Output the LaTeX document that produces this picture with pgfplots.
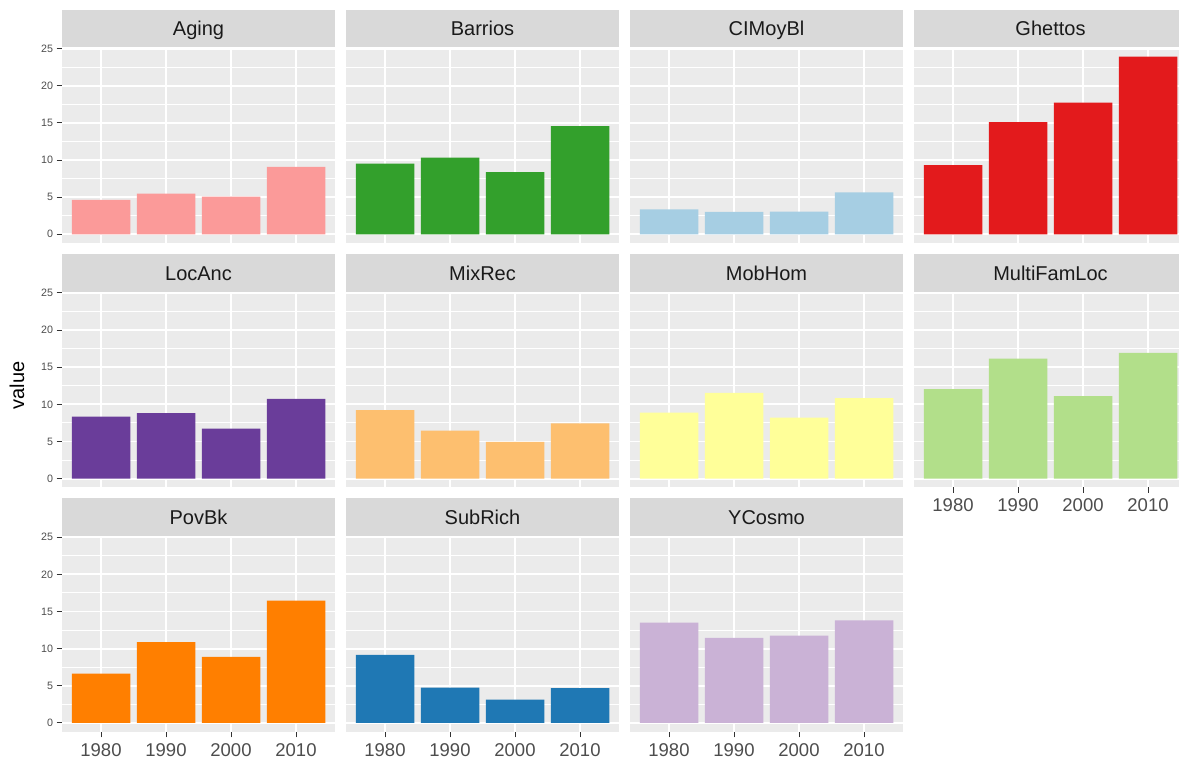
\documentclass[border=0pt]{standalone}
\usepackage{fontspec}
\setmainfont{Liberation Sans}
\usepackage{pgfplots}
\pgfplotsset{compat=1.18}
\definecolor{panelbg}{HTML}{EBEBEB}
\definecolor{stripbg}{HTML}{D9D9D9}
\definecolor{striptext}{HTML}{1A1A1A}
\definecolor{ticklab}{HTML}{4D4D4D}
\definecolor{tickcol}{HTML}{333333}
\definecolor{cAging}{HTML}{FB9A99}
\definecolor{cBarrios}{HTML}{33A02C}
\definecolor{cCIMoyBl}{HTML}{A6CEE3}
\definecolor{cGhettos}{HTML}{E31A1C}
\definecolor{cLocAnc}{HTML}{6A3D9A}
\definecolor{cMixRec}{HTML}{FDBF6F}
\definecolor{cMobHom}{HTML}{FFFF99}
\definecolor{cMultiFamLoc}{HTML}{B2DF8A}
\definecolor{cPovBk}{HTML}{FF7F00}
\definecolor{cSubRich}{HTML}{1F78B4}
\definecolor{cYCosmo}{HTML}{CAB2D6}
\pgfplotsset{
 every axis title shift=0pt,
 panel/.style={
  scale only axis, width=273pt, height=195.6pt,
  xmin=0.4, xmax=4.6, ymin=-1.197, ymax=25.14,
  axis background/.style={fill=panelbg},
  axis line style={draw=none},
  xtick={1,2,3,4}, ytick={0,5,10,15,20,25},
  minor ytick={2.5,7.5,12.5,17.5,22.5},
  xmajorgrids, ymajorgrids, yminorgrids,
  major grid style={white, line width=1.9pt},
  minor grid style={white, line width=0.95pt},
  xtick pos=left, ytick pos=left,
  tick align=outside,
  major tick length=5.5pt, minor tick length=0pt,
  xtick style={draw=none}, ytick style={draw=none},
  xticklabels={}, yticklabels={},
  /pgf/number format/assume math mode=true,
  title style={at={(rel axis cs:0.5,1)}, anchor=south, yshift=0pt, fill=stripbg,
    minimum width=273pt, minimum height=37.5pt, inner sep=0pt,
    text=striptext, font=\fontsize{20}{24}\selectfont,
    text height=14.5pt, text depth=0pt},
  ybar, bar width=0.9,
 },
 ylab/.style={ytick style={draw=tickcol, line width=1pt},
   yticklabels={0,5,10,15,20,25},
   yticklabel style={font=\fontsize{10.7}{12}\selectfont, text=ticklab}},
 xlab/.style={xtick style={draw=tickcol, line width=1pt},
   xticklabels={1980,1990,2000,2010},
   xticklabel style={font=\fontsize{18.5}{20}\selectfont, text=ticklab, yshift=-2.5pt}},
}
\begin{document}
\begin{tikzpicture}
\useasboundingbox (0,0) rectangle (1179pt,761pt);
\clip (0,0) rectangle (1179pt,761pt);
% Row 1
\begin{axis}[panel, ylab, at={(62pt,517.8pt)}, anchor=south west, title={Aging}]
\addplot[fill=cAging, draw=none] coordinates {(1,4.63) (2,5.48) (3,5.08) (4,9.07)};
\end{axis}
\begin{axis}[panel, at={(346pt,517.8pt)}, anchor=south west, title={Barrios}]
\addplot[fill=cBarrios, draw=none] coordinates {(1,9.52) (2,10.33) (3,8.36) (4,14.56)};
\end{axis}
\begin{axis}[panel, at={(630pt,517.8pt)}, anchor=south west, title={CIMoyBl}]
\addplot[fill=cCIMoyBl, draw=none] coordinates {(1,3.37) (2,3.01) (3,3.05) (4,5.66)};
\end{axis}
\begin{axis}[panel, at={(914pt,517.8pt)}, anchor=south west, title={Ghettos}]
\addplot[fill=cGhettos, draw=none] coordinates {(1,9.30) (2,15.09) (3,17.74) (4,23.94)};
\end{axis}
% Row 2
\begin{axis}[panel, ylab, at={(62pt,273.5pt)}, anchor=south west, title={LocAnc}]
\addplot[fill=cLocAnc, draw=none] coordinates {(1,8.33) (2,8.83) (3,6.72) (4,10.75)};
\end{axis}
\begin{axis}[panel, at={(346pt,273.5pt)}, anchor=south west, title={MixRec}]
\addplot[fill=cMixRec, draw=none] coordinates {(1,9.23) (2,6.45) (3,4.93) (4,7.44)};
\end{axis}
\begin{axis}[panel, at={(630pt,273.5pt)}, anchor=south west, title={MobHom}]
\addplot[fill=cMobHom, draw=none] coordinates {(1,8.87) (2,11.56) (3,8.20) (4,10.84)};
\end{axis}
\begin{axis}[panel, xlab, at={(914pt,273.5pt)}, anchor=south west, title={MultiFamLoc}]
\addplot[fill=cMultiFamLoc, draw=none] coordinates {(1,12.05) (2,16.17) (3,11.11) (4,16.94)};
\end{axis}
% Row 3
\begin{axis}[panel, ylab, xlab, at={(62pt,29.2pt)}, anchor=south west, title={PovBk}]
\addplot[fill=cPovBk, draw=none] coordinates {(1,6.62) (2,10.87) (3,8.90) (4,16.46)};
\end{axis}
\begin{axis}[panel, xlab, at={(346pt,29.2pt)}, anchor=south west, title={SubRich}]
\addplot[fill=cSubRich, draw=none] coordinates {(1,9.17) (2,4.74) (3,3.13) (4,4.70)};
\end{axis}
\begin{axis}[panel, xlab, at={(630pt,29.2pt)}, anchor=south west, title={YCosmo}]
\addplot[fill=cYCosmo, draw=none] coordinates {(1,13.51) (2,11.45) (3,11.76) (4,13.82)};
\end{axis}
\node[rotate=90, font=\fontsize{20}{24}\selectfont, text=black] at (17pt,375.5pt) {value};
\end{tikzpicture}
\end{document}
